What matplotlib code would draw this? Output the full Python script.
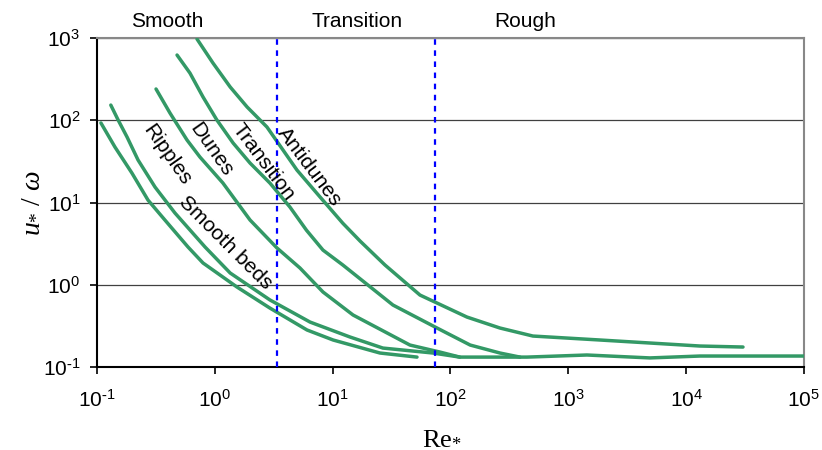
import matplotlib
matplotlib.use("Agg")
from matplotlib import pyplot as plt
from matplotlib import ticker
import numpy as np


FIGSIZE = (822, 450)
DPI = 100

CURVE_COLOR = "#339966"
LIMIT_COLOR = "#0000ff"

plt.rcParams["font.family"] = ["Liberation Sans", "DejaVu Sans"]
plt.rcParams["axes.unicode_minus"] = False
plt.rcParams["mathtext.fontset"] = "custom"
plt.rcParams["mathtext.rm"] = "Liberation Serif"
plt.rcParams["mathtext.it"] = "Liberation Serif:italic"


def formatter_pow10(x, pos=None):
    e = int(round(np.log10(x)))
    if e < 0:
        return r"$\mathdefault{10^{\text{-}%d}}$" % -e
    return r"$\mathdefault{10^{%d}}$" % e


# bedform boundary curves, Re* against u*/omega
ripples_re = [0.108, 0.142, 0.198, 0.271, 0.378, 0.592, 0.794, 1.54, 2.94, 6.06, 10.1, 25.2, 52]
ripples_u = [92.7, 47.3, 22.8, 10.7, 6.1, 2.88, 1.84, 0.94, 0.52, 0.282, 0.213, 0.148, 0.132]

smooth_re = [0.131, 0.151, 0.180, 0.223, 0.311, 0.459, 0.826, 1.35, 2.94, 6.43, 14.0, 26.7, 71, 120]
smooth_u = [153, 101, 62.5, 32.9, 15.4, 7.45, 2.88, 1.39, 0.653, 0.352, 0.232, 0.170, 0.148, 0.132]

dunes_re = [0.317, 0.417, 0.581, 0.748, 1.17, 1.99, 3.37, 5.28, 8.28, 14.9, 45.3, 81.4, 120,
            446, 1440, 4930, 13100, 100000]
dunes_u = [240, 122, 57.5, 35.7, 17.3, 6.13, 2.80, 1.60, 0.817, 0.429, 0.185, 0.152, 0.132,
           0.132, 0.140, 0.129, 0.136, 0.136]

transition_re = [0.478, 0.615, 0.794, 1.04, 1.43, 1.99, 2.94, 4.34, 6.0, 8.28, 12.2, 32.5, 76.9, 147, 263, 389]
transition_u = [621, 375, 192, 101, 52.9, 30.2, 17.2, 8.81, 4.6, 2.64, 1.74, 0.567, 0.298, 0.185, 0.148, 0.132]

antidunes_re = [0.706, 0.964, 1.35, 1.88, 2.77, 3.79, 4.98, 7.81, 12.2, 17.1, 27.8, 55.1, 138, 263,
                501, 1860, 13100, 30400]
antidunes_u = [973, 497, 254, 145, 82.8, 43.5, 24.8, 11.7, 5.6, 3.40, 1.74, 0.750, 0.405, 0.298,
               0.238, 0.213, 0.180, 0.175]

# smooth / transition / rough limits
regime_limits = [3.4, 74]
regime_names = ["Smooth", "Transition", "Rough"]
regime_x = [0.393, 16.1, 429]

x_decades = [1e-1, 1e0, 1e1, 1e2, 1e3, 1e4, 1e5]
y_decades = [1e-1, 1e0, 1e1, 1e2, 1e3]

curve_labels = ["Ripples", "Smooth beds", "Dunes", "Transition", "Antidunes"]
curve_label_x = [0.393, 1.22, 0.93, 2.56, 6.3]
curve_label_y = [37.8, 3.22, 43.5, 31.1, 27.0]
curve_label_rot = [-55, -45, -55, -53, -53]


fig = plt.figure(figsize=(FIGSIZE[0]/DPI, FIGSIZE[1]/DPI), dpi=DPI)
ax = fig.add_axes([0.118, 0.1844, 0.860, 0.7311])

ax.set_xscale("log")
ax.set_yscale("log")
ax.set_xlim(x_decades[0], x_decades[-1])
ax.set_ylim(y_decades[0], y_decades[-1])
ax.xaxis.set_major_locator(ticker.FixedLocator(x_decades))
ax.yaxis.set_major_locator(ticker.FixedLocator(y_decades))
ax.xaxis.set_minor_locator(ticker.NullLocator())
ax.yaxis.set_minor_locator(ticker.NullLocator())
ax.xaxis.set_major_formatter(ticker.FuncFormatter(formatter_pow10))
ax.yaxis.set_major_formatter(ticker.FuncFormatter(formatter_pow10))

ax.yaxis.grid(True, color="#404040", lw=0.9)
ax.set_axisbelow(True)

for side in ("left", "bottom"):
    ax.spines[side].set_color("black")
    ax.spines[side].set_linewidth(1.5)
for side in ("top", "right"):
    ax.spines[side].set_color("#888888")
    ax.spines[side].set_linewidth(1.5)

ax.tick_params(axis="both", direction="out", length=5, width=1.2, labelsize=15)
ax.tick_params(axis="x", pad=11)
ax.tick_params(axis="y", pad=7)

for xs, ys in [(ripples_re, ripples_u), (smooth_re, smooth_u), (dunes_re, dunes_u),
               (transition_re, transition_u), (antidunes_re, antidunes_u)]:
    ax.plot(xs, ys, color=CURVE_COLOR, lw=2.5, solid_capstyle="round", solid_joinstyle="round", zorder=3)

for x in regime_limits:
    ax.axvline(x, color=LIMIT_COLOR, lw=1.6, dashes=(2.5, 2.5), zorder=4)

for name, x in zip(regime_names, regime_x):
    ax.text(x, 1.05, name, transform=ax.get_xaxis_transform(), ha="center", va="center",
            fontsize=15, clip_on=False)

for name, x, y, rot in zip(curve_labels, curve_label_x, curve_label_y, curve_label_rot):
    ax.text(x, y, name, rotation=rot, rotation_mode="anchor", ha="center", va="center",
            fontsize=15, zorder=5)

fig.text(0.036, 0.549, r"$u_{*}\ /\ \omega$", rotation=90, ha="center", va="center", fontsize=20)
fig.text(0.538, 0.029, r"$\mathrm{Re}_{*}$", ha="center", va="center", fontsize=19)

plt.savefig("out.png", dpi=DPI)
